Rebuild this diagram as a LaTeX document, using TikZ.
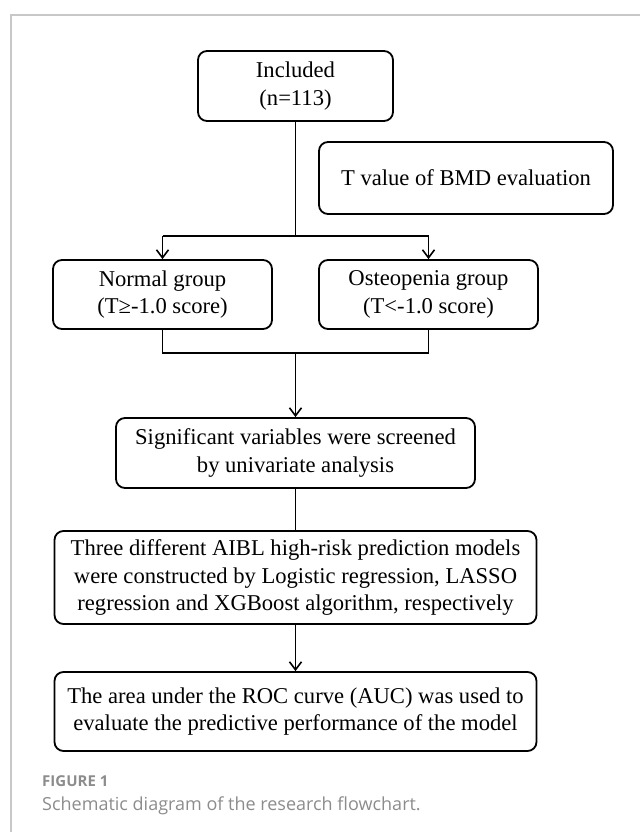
\documentclass[tikz,border=0pt]{standalone}
\usepackage{fontspec}
\setmainfont{Liberation Serif}
\newfontfamily\capfont{Open Sans}
\usetikzlibrary{arrows.meta, positioning}
\definecolor{framegray}{HTML}{C8C8C8}
\definecolor{capgray}{HTML}{8C8C8C}

\begin{document}
\begin{tikzpicture}[x=1pt, y=-1pt,
    box/.style={draw, line width=1.8pt, rounded corners=9pt, align=center,
        font=\fontsize{22.6}{27.7}\selectfont, inner sep=0pt},
    link/.style={line width=1.8pt},
    arr/.style={line width=1.8pt, -{Straight Barb[length=8pt, width=12pt, line width=1.6pt]}},
]
\useasboundingbox (0,0) rectangle (640,832);

% card outline
\draw[framegray, line width=1.5pt] (11,832) -- (11,15) -- (640,15);

% boxes
\node[box, minimum width=195, minimum height=70] (incl) at (295.5,86) {Included\\(n=113)};
\node[box, minimum width=294, minimum height=72] (tval) at (466,178) {T value of BMD evaluation};
\node[box, minimum width=219, minimum height=69] (norm) at (162.5,294.5) {Normal group\\(T≥-1.0 score)};
\node[box, minimum width=219, minimum height=69] (oste) at (428.5,294.5) {Osteopenia group\\(T<-1.0 score)};
\node[box, minimum width=359, minimum height=70] (sig) at (295.5,453) {Significant variables were screened\\by univariate analysis};
\node[box, minimum width=482, minimum height=93] (models) at (295.5,577.5)
    {Three different AIBL high-risk prediction models\\were constructed by Logistic regression, LASSO\\regression and XGBoost algorithm, respectively};
\node[box, minimum width=482, minimum height=79] (auc) at (295.5,711.5)
    {The area under the ROC curve (AUC) was used to\\evaluate the predictive performance of the model};

% split to the two groups
\coordinate (split) at (295.5,236);
\draw[link] (incl.south) -- (split);
\draw[link] (split -| norm) -- (split -| oste);
\draw[arr] (split -| norm) -- (norm.north);
\draw[arr] (split -| oste) -- (oste.north);

% merge back
\coordinate (merge) at (295.5,353);
\draw[link] (norm.south) -- (merge -| norm) -- (merge -| oste) -- (oste.south);
\draw[arr] (merge) -- (sig.north);
\draw[link] (sig.south) -- (models.north);
\draw[arr] (models.south) -- (auc.north);

% caption
\node[anchor=base west, text=capgray, font=\capfont\bfseries\fontsize{15}{17}\selectfont, inner sep=0pt] (fig) at (42,786) {FIGURE 1};
\node[anchor=base west, text=capgray, font=\capfont\fontsize{18}{21}\selectfont, inner sep=0pt] (cap) at (42,810) {Schematic diagram of the research flowchart.};
\end{tikzpicture}
\end{document}
